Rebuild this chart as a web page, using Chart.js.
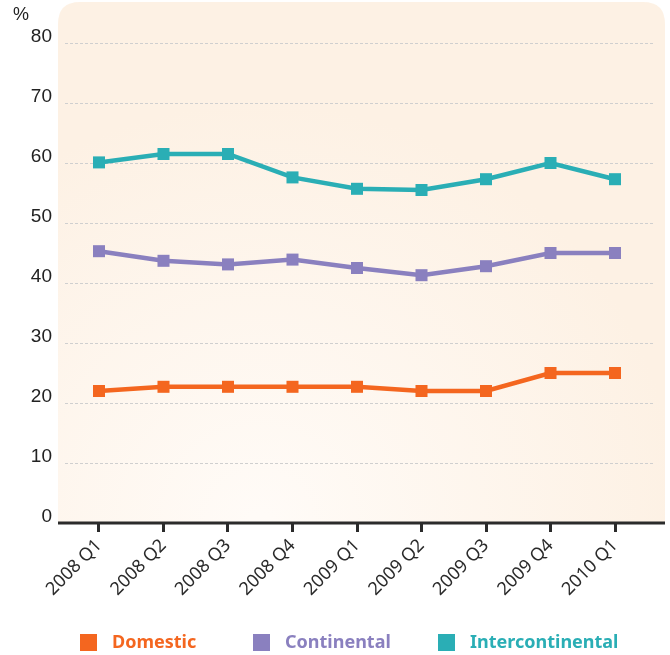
<!DOCTYPE html>
<html>
<head>
<meta charset="utf-8">
<script src="https://cdn.jsdelivr.net/npm/chart.js@4.4.0/dist/chart.umd.min.js"></script>
<style>
  body { margin: 0; background: #fff; }
  canvas { display: block; }
</style>
</head>
<body>
<canvas id="grafico" width="670" height="655"></canvas>
<script>
// Dados (%)
const trimestres = ['2008 Q1', '2008 Q2', '2008 Q3', '2008 Q4', '2009 Q1', '2009 Q2', '2009 Q3', '2009 Q4', '2010 Q1'];
const domestic = [22.0, 22.7, 22.7, 22.7, 22.7, 22.0, 22.0, 25.0, 25.0];
const continental = [45.3, 43.7, 43.1, 43.9, 42.5, 41.3, 42.8, 45.0, 45.0];
const intercontinental = [60.1, 61.5, 61.5, 57.6, 55.7, 55.5, 57.3, 60.0, 57.3];
const yTicks = [0, 10, 20, 30, 40, 50, 60, 70, 80];

const cores = { domestic: '#f4661f', continental: '#8a80bf', intercontinental: '#2aaeb5' };

const toPoints = (arr) => arr.map((v, i) => ({ x: i, y: v }));

// Fundo creme com cantos arredondados + eixo X + símbolo % + legenda
const fundoPlugin = {
    id: 'fundo',
    beforeDraw(chart) {
        const ctx = chart.ctx;
        const x0 = 58, x1 = 665, y0 = 2, y1 = chart.scales.y.getPixelForValue(0), r = 22;
        ctx.save();
        const grad = ctx.createRadialGradient(260, y1, 10, 260, y1, 420);
        grad.addColorStop(0, '#fffbf7');
        grad.addColorStop(1, '#fdf1e4');
        ctx.fillStyle = grad;
        ctx.beginPath();
        ctx.moveTo(x0, y1);
        ctx.lineTo(x0, y0 + r);
        ctx.quadraticCurveTo(x0, y0, x0 + r, y0);
        ctx.lineTo(x1 - r, y0);
        ctx.quadraticCurveTo(x1, y0, x1, y0 + r);
        ctx.lineTo(x1, y1);
        ctx.closePath();
        ctx.fill();
        ctx.restore();
    },
    afterDraw(chart) {
        const ctx = chart.ctx;
        const y = chart.scales.y.getPixelForValue(0);
        ctx.save();
        ctx.strokeStyle = '#2b2b2b';
        ctx.lineWidth = 3;
        ctx.beginPath();
        ctx.moveTo(58, y);
        ctx.lineTo(665, y);
        ctx.stroke();
        ctx.fillStyle = '#222';
        ctx.font = '18px "Liberation Sans", Arial, sans-serif';
        ctx.textBaseline = 'middle';
        ctx.fillText('%', 13, 15);

        // legenda
        const posLegenda = [80, 253, 438];
        ctx.font = 'bold 18px "Noto Sans", "Open Sans", sans-serif';
        chart.data.datasets.forEach((ds, i) => {
            const x = posLegenda[i];
            ctx.fillStyle = ds.backgroundColor;
            ctx.fillRect(x, 634, 17, 17);
            ctx.fillStyle = ds.borderColor;
            ctx.fillText(ds.label, x + 32, 643);
        });
        ctx.restore();
    }
};

const serie = (label, data, cor) => ({
    label: label,
    data: toPoints(data),
    borderColor: cor,
    backgroundColor: cor,
    borderWidth: 4.5,
    pointStyle: 'rect',
    pointRadius: 8.5,
    pointHoverRadius: 8.5,
    pointBorderWidth: 0,
    tension: 0
});

new Chart(document.getElementById('grafico'), {
    type: 'line',
    data: {
        datasets: [
            serie('Domestic', domestic, cores.domestic),
            serie('Continental', continental, cores.continental),
            serie('Intercontinental', intercontinental, cores.intercontinental)
        ]
    },
    options: {
        responsive: false,
        animation: false,
        layout: { padding: { top: 43, left: 0, right: 17, bottom: 0 } },
        scales: {
            x: {
                type: 'linear',
                min: -0.527,
                max: 8.589,
                afterBuildTicks: (scale) => { scale.ticks = trimestres.map((t, i) => ({ value: i })); },
                afterFit: (scale) => { scale.height = 132; },
                ticks: {
                    callback: (v) => trimestres[v],
                    minRotation: 45,
                    maxRotation: 45,
                    color: '#2b2b2b',
                    padding: 3,
                    font: { family: '"Noto Sans", "Open Sans", sans-serif', size: 18 }
                },
                grid: { drawOnChartArea: false, drawTicks: true, tickLength: 9, color: '#2b2b2b', lineWidth: 3 },
                border: { display: false }
            },
            y: {
                min: 0,
                max: 80,
                afterBuildTicks: (scale) => { scale.ticks = yTicks.map((v) => ({ value: v })); },
                afterFit: (scale) => { scale.width = 65; },
                ticks: {
                    color: '#222',
                    padding: 13,
                    labelOffset: -6,
                    font: { family: '"Liberation Sans", Arial, sans-serif', size: 19 }
                },
                grid: { color: '#cfcfcf', lineWidth: 1, drawTicks: false },
                border: { display: false, dash: [3, 2] }
            }
        },
        plugins: {
            tooltip: { enabled: false },
            legend: { display: false }
        }
    },
    plugins: [fundoPlugin]
});
</script>
</body>
</html>
